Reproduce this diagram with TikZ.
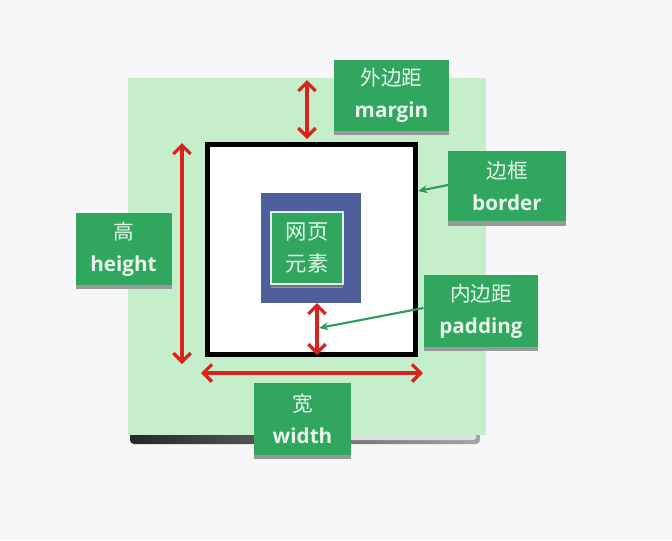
\documentclass[tikz,border=0pt]{standalone}
\usepackage{fontspec}
\setmainfont{Open Sans}
\newfontfamily\cjk{Noto Sans CJK SC}
\usetikzlibrary{arrows.meta,shadows}
\definecolor{pagebg}{HTML}{F7F6F9}
\definecolor{marginfill}{HTML}{C5EFCA}
\definecolor{labelgreen}{HTML}{30A65F}
\definecolor{labeltext}{HTML}{E8F6EC}
\definecolor{elemblue}{HTML}{4F5F9B}
\definecolor{arrowred}{HTML}{D8231F}
\definecolor{pointgreen}{HTML}{2F9A5E}
\begin{document}
\begin{tikzpicture}
        [x=0.75pt, y=-0.75pt,
        lbl/.style={rectangle, fill=labelgreen, text=labeltext, align=center,
            inner sep=0pt, font=\bfseries\fontsize{15.5}{24}\selectfont,
            drop shadow={shadow xshift=0pt, shadow yshift=-3.2pt, fill=black!40, opacity=1}},
        measure/.style={draw=arrowred, line width=2.4pt,
            {Straight Barb[length=6.5pt,width=13pt]}-{Straight Barb[length=6.5pt,width=13pt]}},
        pointer/.style={draw=pointgreen, line width=1.6pt, -{Stealth[length=7pt,width=6pt]}}]
    % page and margin area
    \fill[pagebg] (0,0) rectangle (672,540);
    \useasboundingbox (0,0) rectangle (672,540);
    \shade[left color=black!85, right color=black!35, rounded corners=3pt]
        (130,430) rectangle (480,444);
    \fill[black!12, rounded corners=2pt] (300,434) rectangle (476,440);
    \fill[marginfill] (128,78) rectangle (486,435);
    % border box
    \filldraw[fill=white, draw=black, line width=3.8pt] (207.5,144.5) rectangle (415.5,354.5);
    \fill[elemblue] (261,193) rectangle (361,303);
    % labels
    \node[lbl, draw=white!85!labelgreen, line width=0.8pt, minimum width=54pt, minimum height=54pt,
        drop shadow={shadow xshift=0pt, shadow yshift=-2.5pt, fill=black!70, opacity=0.5},
        font=\cjk\fontsize{16}{24}\selectfont] (elem) at (307,248) {网页\\元素};
    \node[lbl, minimum width=86pt, minimum height=53pt] (marginlbl) at (391.5,95.5)
        {{\cjk\mdseries 外边距}\\margin};
    \node[lbl, minimum width=88pt, minimum height=53pt] (borderlbl) at (507,186)
        {{\cjk\mdseries 边框}\\border};
    \node[lbl, minimum width=86pt, minimum height=54pt] (paddinglbl) at (481,311)
        {{\cjk\mdseries 内边距}\\padding};
    \node[lbl, minimum width=72pt, minimum height=54pt] (heightlbl) at (123.5,249)
        {{\cjk\mdseries 高}\\height};
    \node[lbl, minimum width=73pt, minimum height=54pt] (widthlbl) at (302.5,419)
        {{\cjk\mdseries 宽}\\width};
    % measures
    \coordinate (mtop) at (307,80);
    \coordinate (mbot) at (307,139);
    \coordinate (htop) at (182,143);
    \coordinate (hbot) at (182,364);
    \coordinate (wleft) at (201,373);
    \coordinate (wright) at (423,373);
    \coordinate (ptop) at (317,303);
    \coordinate (pbot) at (317,355);
    \draw[measure] (mtop) -- (mbot);
    \draw[measure] (htop) -- (hbot);
    \draw[measure] (wleft) -- (wright);
    \draw[measure] (ptop) -- (pbot);
    % pointers
    \coordinate (bedge) at (418,191);
    \coordinate (pgap) at (319,328);
    \draw[pointer] (borderlbl.west |- 0,185) -- (bedge);
    \draw[pointer] (paddinglbl.west |- 0,308) -- (pgap);
\end{tikzpicture}
\end{document}
